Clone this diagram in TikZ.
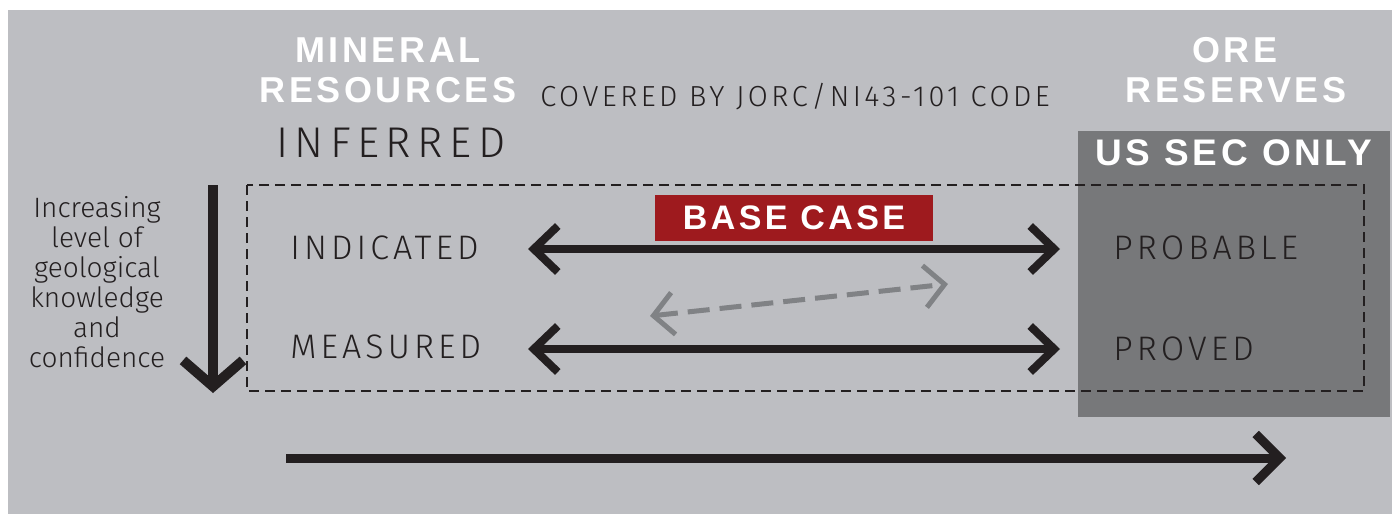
\documentclass[tikz,border=0pt]{standalone}
\usepackage{fontspec}
\usepackage{tikz}
\usetikzlibrary{positioning,arrows.meta}
\setmainfont{Liberation Sans}
\newfontfamily\headfont[LetterSpace=10]{Liberation Sans Bold}
\newfontfamily\thinfont[LetterSpace=12]{Fira Sans Light}
\newfontfamily\widefont[LetterSpace=15]{Fira Sans Light}
\newfontfamily\plainfont{Fira Sans Light}
\definecolor{panelgray}{HTML}{BDBEC2}
\definecolor{secgray}{HTML}{77787A}
\definecolor{basered}{HTML}{9E1A1E}
\definecolor{inkblack}{HTML}{231F20}
\definecolor{hintgray}{HTML}{808285}
\tikzstyle{heading}=[text=white, font=\headfont\fontsize{18}{20}\selectfont, align=center, inner sep=0]
\tikzstyle{category}=[text=inkblack, font=\thinfont\fontsize{17}{19}\selectfont, anchor=west, inner sep=0]
\tikzstyle{link}=[{Straight Barb[length=12pt,width=23pt]}-{Straight Barb[length=12pt,width=23pt]}, inkblack, line width=4pt]
\tikzstyle{maybe}=[{Straight Barb[length=10pt,width=21pt]}-{Straight Barb[length=10pt,width=21pt]}, hintgray, line width=2.5pt, dash pattern=on 11pt off 5pt]
\tikzstyle{trend}=[-{Straight Barb[length=12pt,width=24pt]}, inkblack, line width=4.5pt]

\begin{document}
\begin{tikzpicture}[x=0.5pt, y=-0.5pt]
  \useasboundingbox (0,0) rectangle (1392,514);
  \fill[white] (0,0) rectangle (1392,514);
  \fill[panelgray] (8,10) rectangle (1392,514);
  \fill[secgray] (1078,131) rectangle (1390,417);
  \draw[inkblack, line width=0.75pt, dash pattern=on 5pt off 3pt] (247,185) rectangle (1364,391);

  % headings
  \node[heading] (mineral) at (388,50) {MINERAL};
  \node[heading] (resources) at (388,90) {RESOURCES};
  \node[heading] (ore) at (1235,50) {ORE};
  \node[heading] (reserves) at (1236,90) {RESERVES};
  \node[heading, font=\headfont\fontsize{18.5}{20}\selectfont] (secOnly) at (1234,153) {US SEC ONLY};
  \node[text=inkblack, font=\thinfont\fontsize{14.5}{16}\selectfont, anchor=west, inner sep=0] (covered) at (540,97) {COVERED BY JORC/NI43-101 CODE};
  \node[category, font=\widefont\fontsize{21.5}{24}\selectfont] (inferred) at (276,143) {INFERRED};

  % categories
  \node[category] (indicated) at (290,248) {INDICATED};
  \node[category] (measured) at (290,347) {MEASURED};
  \node[category] (probable) at (1113,248) {PROBABLE};
  \node[category] (proved) at (1113,349) {PROVED};

  \node[fill=basered, text=white, font=\headfont\fontsize{17}{19}\selectfont, minimum width=139pt, minimum height=23pt, inner sep=0] (baseCase) at (794,218) {BASE CASE};

  \node[text=inkblack, font=\plainfont\fontsize{14}{15}\selectfont, align=center, inner sep=0] (knowledge) at (97,282) {Increasing\\level of\\geological\\knowledge\\and\\confidence};

  % arrow ends
  \coordinate (indL) at (528,249);
  \coordinate (indR) at (1060,249);
  \coordinate (meaL) at (528,349);
  \coordinate (meaR) at (1060,349);
  \coordinate (hintL) at (650,316);
  \coordinate (hintR) at (948,284);
  \coordinate (downTop) at (213,185);
  \coordinate (downEnd) at (213,393);
  \coordinate (flowL) at (286,458);
  \coordinate (flowR) at (1286,458);

  \draw[link] (indL) -- (indR);
  \draw[link] (meaL) -- (meaR);
  \draw[maybe] (hintL) -- (hintR);
  \draw[trend, line width=5pt, -{Straight Barb[length=13pt,width=30pt]}] (downTop) -- (downEnd);
  \draw[trend] (flowL) -- (flowR);
\end{tikzpicture}
\end{document}
